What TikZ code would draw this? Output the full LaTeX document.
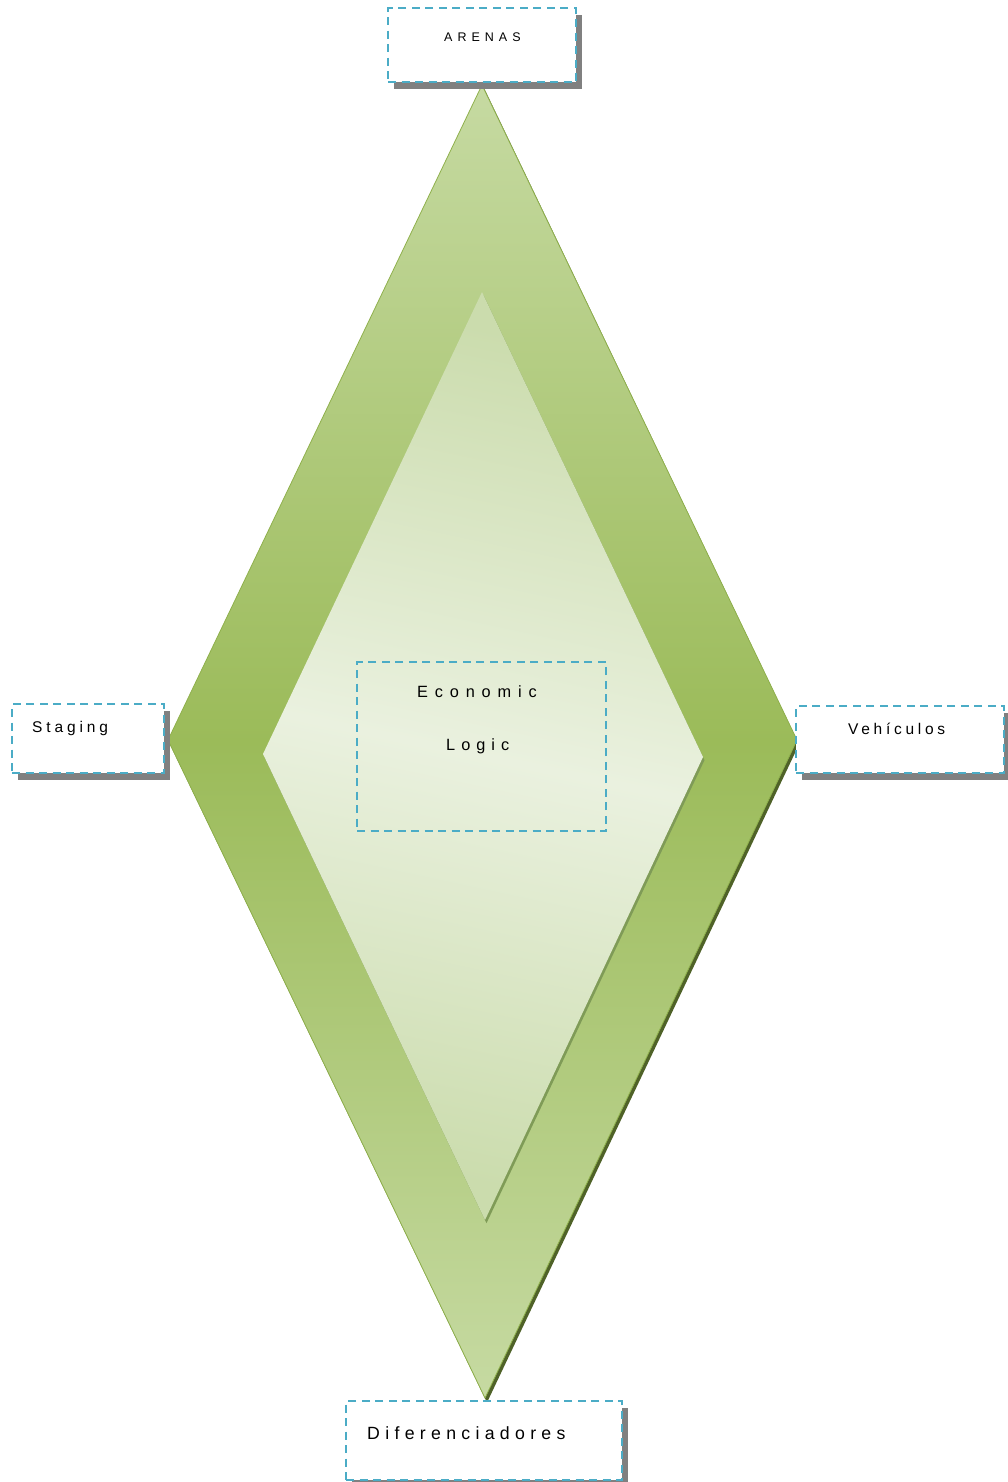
\documentclass[tikz,border=0pt]{standalone}
\usepackage{fontspec}
\setmainfont{Liberation Sans}
\usetikzlibrary{shadows}

\definecolor{dashblue}{HTML}{4BACC6}
\definecolor{boxshadow}{HTML}{808080}
\definecolor{outerlight}{HTML}{C6DAA2}
\definecolor{outermid}{HTML}{9BBB59}
\definecolor{outeredge}{HTML}{8FB04C}
\definecolor{outershade}{HTML}{4F6228}
\definecolor{innerlight}{HTML}{EAF1DF}
\definecolor{innerdark}{HTML}{CBDCAD}
\definecolor{innershade}{HTML}{7F9B57}

% letter-spaced sans text of a given size
\newcommand{\trackedtext}[2]{\fontsize{#1}{#1}\selectfont\addfontfeature{LetterSpace=#2}}

\begin{document}
\begin{tikzpicture}[x=1pt,y=-1pt,
  labelbox/.style={draw=dashblue, line width=2.2pt, dash pattern=on 8pt off 5.5pt,
    fill=white, inner sep=0pt, anchor=north west,
    general shadow={fill=boxshadow, shadow xshift=5.5pt, shadow yshift=-7pt}},
  centerbox/.style={draw=dashblue, line width=2.2pt, dash pattern=on 8pt off 5.5pt,
    inner sep=0pt, anchor=north west},
  caption/.style={anchor=base west, inner sep=0pt, text=black}]
\useasboundingbox (0,0) rectangle (1008,1482);

% outer diamond: dark rim on the lower right, then the shaded body
\fill[outershade] (484,88) -- (799,744.5) -- (487,1402.5) -- (170,744.5) -- cycle;
\shade[top color=outerlight, bottom color=outerlight, middle color=outermid,
  draw=outeredge, line width=0.8pt]
  (482,85) -- (797,740) -- (485,1398) -- (168,740) -- cycle;

% inner diamond: rim and lighter body
\fill[innershade] (483.5,295.2) -- (704.5,760.2) -- (486.5,1223.2) -- (264.5,757.2) -- cycle;
\shade[top color=innerdark, bottom color=innerdark, middle color=innerlight,
  shading angle=-12]
  (482,292) -- (703,757) -- (485,1220) -- (263,754) -- cycle;

% label boxes round the diamond
\node[labelbox, minimum width=188pt, minimum height=74pt] (arenasbox) at (387,7) {};
\node[labelbox, minimum width=152pt, minimum height=69pt] (stagingbox) at (11,703) {};
\node[labelbox, minimum width=208pt, minimum height=67pt] (vehiculosbox) at (795,705) {};
\node[labelbox, minimum width=276pt, minimum height=79pt] (diferbox) at (345,1400) {};
\node[centerbox, minimum width=249pt, minimum height=169pt] (logicbox) at (356,661) {};

% captions
\node[caption, font=\trackedtext{12.5pt}{40}] (arenas) at (444,42) {ARENAS};
\node[caption, font=\trackedtext{15.5pt}{25}] (staging) at (32,732) {Staging};
\node[caption, font=\trackedtext{15.5pt}{24}] (vehiculos) at (848,734) {Vehículos};
\node[caption, font=\trackedtext{17.7pt}{30}] (difer) at (367,1439) {Diferenciadores};
\node[caption, font=\trackedtext{16.3pt}{42}] (economic) at (417,697) {Economic};
\node[caption, font=\trackedtext{16.3pt}{37}] (logic) at (446,750) {Logic};
\end{tikzpicture}
\end{document}
